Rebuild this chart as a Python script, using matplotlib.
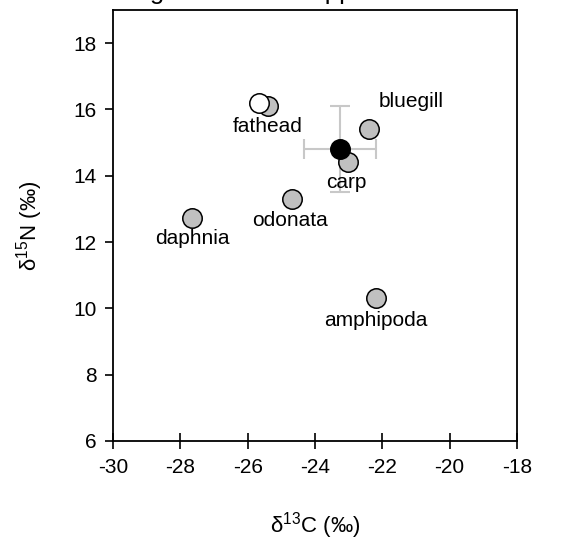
import matplotlib
matplotlib.use("Agg")
import matplotlib.pyplot as plt

plt.rcParams['font.family'] = ['Liberation Sans', 'DejaVu Sans']
plt.rcParams['mathtext.fontset'] = 'custom'
plt.rcParams['mathtext.rm'] = 'Liberation Sans'

# prey / fish (grey)
names = ["daphnia", "odonata", "amphipoda", "fathead", "bluegill", "carp"]
d13C = [-27.65, -24.68, -22.2, -25.4, -22.4, -23.03]
d15N = [12.72, 13.3, 10.3, 16.1, 15.4, 14.4]
label_x = [-27.65, -24.74, -22.2, -25.42, -21.15, -23.08]
label_y = [12.1, 12.65, 9.62, 15.5, 16.25, 13.8]

# open circle
open_x = [-25.65]
open_y = [16.2]

# mean with error bars (black)
mean_x = [-23.27]
mean_y = [14.8]
mean_xerr = [1.07]
mean_yerr = [1.3]

xticks = [-30, -28, -26, -24, -22, -20, -18]
yticks = [6, 8, 10, 12, 14, 16, 18]

fig = plt.figure(figsize=(5.63, 5.42), dpi=100)
ax = fig.add_axes([0.2007, 0.1865, 0.7176, 0.795])

ax.errorbar(mean_x, mean_y, xerr=mean_xerr, yerr=mean_yerr, fmt='none',
            ecolor='#c8c8c8', elinewidth=1.5, capsize=7, capthick=1.5, zorder=1)
ax.plot(d13C, d15N, 'o', ms=14, mfc='#c0c0c0', mec='black', mew=1.1, ls='none', zorder=2)
ax.plot(open_x, open_y, 'o', ms=14, mfc='white', mec='black', mew=1.1, ls='none', zorder=3)
ax.plot(mean_x, mean_y, 'o', ms=14, mfc='black', mec='black', mew=1.1, ls='none', zorder=4)

for n, x, y in zip(names, label_x, label_y):
    ax.text(x, y, n, ha='center', va='center', fontsize=15)

ax.set_xlim(-30, -18)
ax.set_ylim(6, 19)
ax.set_xticks(xticks)
ax.set_yticks(yticks)
ax.set_xticklabels([str(t) for t in xticks])
ax.set_yticklabels([str(t) for t in yticks])
ax.tick_params(axis='both', labelsize=15, length=6, width=1.2, pad=6)
ax.tick_params(axis='y', direction='out')
ax.tick_params(axis='x', direction='inout', length=12)
for s in ax.spines.values():
    s.set_linewidth(1.3)

ax.set_xlabel('δ$^{13}$C (‰)', fontsize=16, labelpad=24)
ax.set_ylabel('δ$^{15}$N (‰)', fontsize=16, labelpad=20)

fig.text(0.226, 1.0025, "Big Lake Mississippi", fontsize=18.5, va='baseline', ha='left')

fig.savefig("out.png", dpi=100)
